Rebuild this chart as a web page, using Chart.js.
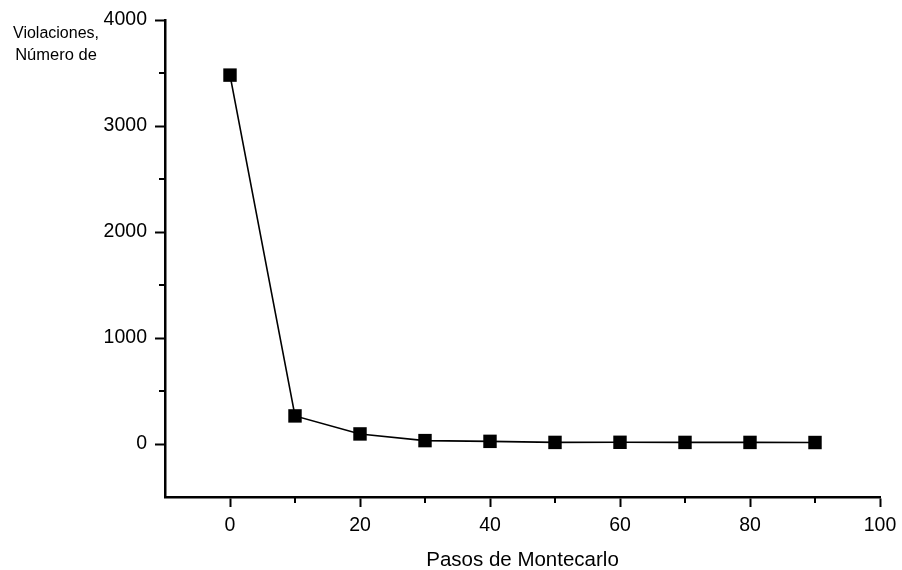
<!DOCTYPE html>
<html>
<head>
<meta charset="utf-8">
<script src="https://cdn.jsdelivr.net/npm/chart.js@4.4.0/dist/chart.umd.min.js"></script>
<style>
  html, body { margin: 0; padding: 0; background: #fff; }
  #chart { display: block; }
</style>
</head>
<body>
<canvas id="chart" width="902" height="570"></canvas>
<script>
// Data
const steps = [0, 10, 20, 30, 40, 50, 60, 70, 80, 90];
const violations = [3480, 265, 95, 32, 25, 15, 16, 15, 15, 14];

const xTitle = "Pasos de Montecarlo";
const yTitleLines = ["Violaciones,", "Número de"];

const FONT = "'Liberation Sans', Arial, Helvetica, sans-serif";

function isMajor(value, step) {
  return value % step === 0;
}

// short minor ticks + the y axis caption in the top-left corner
const extras = {
  id: "extras",
  afterDraw(chart) {
    const ctx = chart.ctx;
    const xs = chart.scales.x;
    const ys = chart.scales.y;
    ctx.save();
    ctx.strokeStyle = "#000";
    ctx.lineWidth = 2;
    xs.ticks.forEach(t => {
      if (t.value > xs.min && !isMajor(t.value, 20)) {
        const px = xs.getPixelForValue(t.value);
        ctx.beginPath();
        ctx.moveTo(px, xs.top);
        ctx.lineTo(px, xs.top + 6);
        ctx.stroke();
      }
    });
    ys.ticks.forEach(t => {
      if (t.value > ys.min && !isMajor(t.value, 1000)) {
        const py = ys.getPixelForValue(t.value);
        ctx.beginPath();
        ctx.moveTo(ys.right, py);
        ctx.lineTo(ys.right - 6, py);
        ctx.stroke();
      }
    });
    ctx.fillStyle = "#000";
    ctx.textAlign = "center";
    ctx.textBaseline = "alphabetic";
    ctx.font = "16px " + FONT;
    ctx.fillText(yTitleLines[0], 56, 38);
    ctx.font = "16.5px " + FONT;
    ctx.fillText(yTitleLines[1], 56, 60);
    ctx.restore();
  }
};

new Chart(document.getElementById("chart"), {
  type: "line",
  data: {
    datasets: [{
      data: steps.map((s, i) => ({ x: s, y: violations[i] })),
      borderColor: "#000",
      borderWidth: 1.6,
      backgroundColor: "#000",
      pointStyle: "rect",
      pointRadius: 9.5,
      pointBorderWidth: 0,
      tension: 0
    }]
  },
  options: {
    responsive: false,
    animation: false,
    layout: { padding: { top: 20, right: 22, left: 0, bottom: 0 } },
    plugins: { legend: { display: false }, tooltip: { enabled: false } },
    scales: {
      x: {
        type: "linear",
        min: -10,
        max: 100,
        afterFit(scale) {
          scale.height = 73;
          scale.paddingLeft = 0;
          scale.paddingRight = 0;
        },
        ticks: {
          stepSize: 10,
          padding: 7,
          color: "#000",
          font: { family: FONT, size: 19.5 },
          maxRotation: 0,
          autoSkip: false,
          callback: v => (v >= 0 && isMajor(v, 20)) ? String(v) : ""
        },
        grid: {
          drawOnChartArea: false,
          drawTicks: true,
          tickLength: 10,
          tickWidth: 2,
          tickColor: c => (c.tick && c.tick.value >= 0 && isMajor(c.tick.value, 20)) ? "#000" : "rgba(0,0,0,0)"
        },
        border: { display: true, color: "#000", width: 2.5 },
        title: {
          display: true,
          text: xTitle,
          color: "#000",
          font: { family: FONT, size: 20.5 },
          padding: { top: 0, bottom: -3 }
        }
      },
      y: {
        type: "linear",
        min: -500,
        max: 4000,
        afterFit(scale) {
          scale.width = 165;
          scale.paddingTop = 0;
          scale.paddingBottom = 0;
        },
        ticks: {
          stepSize: 500,
          padding: 8,
          color: "#000",
          font: { family: FONT, size: 19.5 },
          autoSkip: false,
          callback: v => (v >= 0 && isMajor(v, 1000)) ? String(v) : ""
        },
        grid: {
          drawOnChartArea: false,
          drawTicks: true,
          tickLength: 10,
          tickWidth: 2,
          tickColor: c => (c.tick && c.tick.value >= 0 && isMajor(c.tick.value, 1000)) ? "#000" : "rgba(0,0,0,0)"
        },
        border: { display: true, color: "#000", width: 2.5 }
      }
    }
  },
  plugins: [extras]
});
</script>
</body>
</html>
